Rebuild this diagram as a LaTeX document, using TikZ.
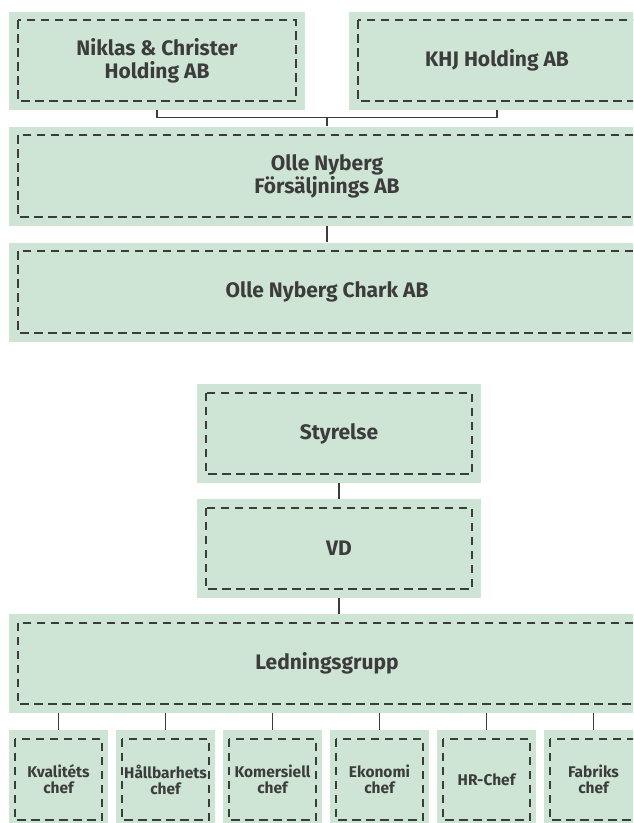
\documentclass[tikz,border=0pt]{standalone}
\usepackage{fontspec}
\setmainfont{Fira Sans}
\definecolor{boxfill}{RGB}{206,229,213}
\definecolor{ink}{RGB}{60,60,60}
\tikzset{
  orgbox/.style={fill=boxfill, draw=none, inner sep=0pt, text=ink, align=center,
    font=\bfseries\fontsize{21}{23}\selectfont},
  smallbox/.style={orgbox, minimum width=99pt, minimum height=99pt,
    font=\bfseries\fontsize{15.5}{16}\selectfont},
  dashline/.style={draw=ink, line width=1.8pt, dash pattern=on 8.5pt off 5.5pt},
  conn/.style={draw=ink, line width=1.7pt},
}
\begin{document}
\begin{tikzpicture}[x=1pt,y=-1pt]
\useasboundingbox (0,0) rectangle (633,823);
\clip (0,0) rectangle (633,823);
% top companies
\node[orgbox, minimum width=296pt, minimum height=98pt] (nc) at (157,60.5) {Niklas \& Christer\\Holding AB};
\node[orgbox, minimum width=296pt, minimum height=98pt] (khj) at (497,60.5) {KHJ Holding AB};
\node[orgbox, minimum width=636pt, minimum height=99pt] (onf) at (327,176) {Olle Nyberg\\Försäljnings AB};
\node[orgbox, minimum width=636pt, minimum height=99pt] (chark) at (327,292) {Olle Nyberg Chark AB};
% management
\node[orgbox, minimum width=284pt, minimum height=99pt] (sty) at (339,433.5) {Styrelse};
\node[orgbox, minimum width=284pt, minimum height=99pt] (vd) at (339,548.5) {VD};
\node[orgbox, minimum width=636pt, minimum height=99pt] (ledn) at (327,663.5) {Ledningsgrupp};
\node[smallbox] (s1) at (58.5,779.5) {Kvalitéts\\chef};
\node[smallbox] (s2) at (165.5,779.5) {Hållbarhets\\chef};
\node[smallbox] (s3) at (272.5,779.5) {Komersiell\\chef};
\node[smallbox] (s4) at (379.5,779.5) {Ekonomi\\chef};
\node[smallbox] (s5) at (486.5,779.5) {HR-Chef};
\node[smallbox] (s6) at (593.5,779.5) {Fabriks\\chef};
% dashed frames
\foreach \n in {nc,khj,onf,chark,sty,vd,ledn}{
  \draw[dashline] ([shift={(9,9)}]\n.north west) rectangle ([shift={(-9,-9)}]\n.south east);
}
\foreach \n in {s1,s2,s3,s4,s5,s6}{
  \draw[dashline] ([shift={(6,9)}]\n.north west) rectangle ([shift={(-6,-9)}]\n.south east);
}
% connectors
\coordinate (j) at (327,117.5);
\draw[conn] (nc.south) |- (j) -| (khj.south);
\draw[conn] (j) -- (onf.north);
\draw[conn] (onf.south) -- (chark.north);
\draw[conn] (sty.south) -- (vd.north);
\draw[conn] (vd.south) -- (vd.south |- ledn.north);
\foreach \n in {s1,s2,s3,s4,s5,s6}{
  \draw[conn] (\n.north) -- (\n.north |- ledn.south);
}
\end{tikzpicture}
\end{document}
